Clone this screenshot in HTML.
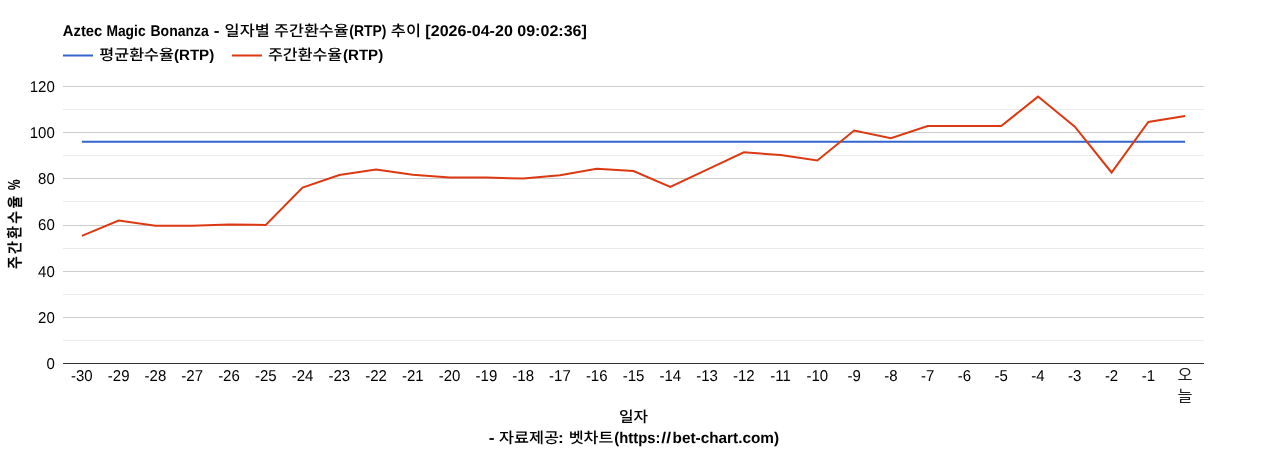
<!DOCTYPE html>
<html lang="ko">
<head>
<meta charset="utf-8">
<title>Aztec Magic Bonanza - 일자별 주간환수율(RTP) 추이</title>
<style>
html,body{margin:0;padding:0;background:#fff;}
body{width:1268px;height:450px;overflow:hidden;}
svg{display:block;}
text{font-family:"Liberation Sans","Noto Sans CJK KR","NanumGothic",sans-serif;font-size:15px;}
.ax{fill:#000;text-rendering:geometricPrecision;}
.axk{fill:#222;}
.gp{text-rendering:geometricPrecision;}
.tt{font-weight:bold;}
</style>
</head>
<body>
<svg width="1268" height="450" viewBox="0 0 1268 450">
<rect x="0" y="0" width="1268" height="450" fill="#ffffff"/>
<text class="tt gp" y="36" fill="#000"><tspan class="l" x="62.84" textLength="39.42" lengthAdjust="spacingAndGlyphs" font-size="15.5">Aztec</tspan> <tspan class="l" x="106.41" textLength="39.18" lengthAdjust="spacingAndGlyphs" font-size="15.5">Magic</tspan> <tspan class="l" x="150.50" textLength="58.27" lengthAdjust="spacingAndGlyphs" font-size="15.5">Bonanza</tspan> <tspan class="l" x="213.78" textLength="5.79" lengthAdjust="spacingAndGlyphs" font-size="15.5">-</tspan> <tspan class="k" x="224.61" textLength="45.08" lengthAdjust="spacingAndGlyphs" font-weight="500">일자별</tspan> <tspan class="k" x="274.09" textLength="74.54" lengthAdjust="spacingAndGlyphs" font-weight="500">주간환수율</tspan><tspan class="l" x="349.33" textLength="37.12" lengthAdjust="spacingAndGlyphs" font-size="15.5">(RTP)</tspan> <tspan class="k" x="390.88" textLength="30.04" lengthAdjust="spacingAndGlyphs" font-weight="500">추이</tspan> <tspan class="l" x="425.39" textLength="161.48" lengthAdjust="spacingAndGlyphs" font-size="15.5">[2026-04-20 09:02:36]</tspan></text>
<g>
<path d="M63,55.5L93,55.5" stroke="#3366cc" stroke-width="2" fill="none"/>
<text class="tt gp" y="59.5" fill="#000"><tspan class="k" x="99.29" textLength="74.64" lengthAdjust="spacingAndGlyphs" font-weight="500">평균환수율</tspan><tspan class="l" x="173.94" textLength="40.31" lengthAdjust="spacingAndGlyphs">(RTP)</tspan></text>
<path d="M232,55.5L262,55.5" stroke="#dc3912" stroke-width="2" fill="none"/>
<text class="tt gp" y="59.5" fill="#000"><tspan class="k" x="267.99" textLength="74.23" lengthAdjust="spacingAndGlyphs" font-weight="500">주간환수율</tspan><tspan class="l" x="343.05" textLength="40.10" lengthAdjust="spacingAndGlyphs">(RTP)</tspan></text>
</g>
<g shape-rendering="crispEdges">
<rect x="63" y="340" width="1141" height="1" fill="#ebebeb"/>
<rect x="63" y="317" width="1141" height="1" fill="#cccccc"/>
<rect x="63" y="294" width="1141" height="1" fill="#ebebeb"/>
<rect x="63" y="271" width="1141" height="1" fill="#cccccc"/>
<rect x="63" y="248" width="1141" height="1" fill="#ebebeb"/>
<rect x="63" y="225" width="1141" height="1" fill="#cccccc"/>
<rect x="63" y="201" width="1141" height="1" fill="#ebebeb"/>
<rect x="63" y="178" width="1141" height="1" fill="#cccccc"/>
<rect x="63" y="155" width="1141" height="1" fill="#ebebeb"/>
<rect x="63" y="132" width="1141" height="1" fill="#cccccc"/>
<rect x="63" y="109" width="1141" height="1" fill="#ebebeb"/>
<rect x="63" y="86" width="1141" height="1" fill="#cccccc"/>
<rect x="63" y="363" width="1141" height="1" fill="#333333"/>
</g>
<path d="M81.89,141.8L1185.11,141.8" stroke="#3366cc" stroke-width="2" fill="none"/>
<path d="M81.89,235.9L118.66,220.5L155.44,225.8L192.21,225.8L228.98,224.6L265.76,224.9L302.53,187.5L339.31,175L376.08,169.5L412.85,174.7L449.63,177.6L486.40,177.6L523.18,178.6L559.95,175.25L596.73,168.75L633.50,171.1L670.27,187.0L707.05,169.6L743.82,152.25L780.60,155.1L817.37,160.5L854.15,130.5L890.92,138.25L927.69,126L964.47,126L1001.24,126L1038.02,96.6L1074.79,126.7L1111.56,172.5L1148.34,122.0L1185.11,115.9" stroke="#dc3912" stroke-width="2" fill="none"/>
<g class="ax" text-anchor="end" transform="scale(1,1.05)">
<text x="54.8" y="351.43">0</text>
<text x="54.8" y="307.46">20</text>
<text x="54.8" y="263.49">40</text>
<text x="54.8" y="219.52">60</text>
<text x="54.8" y="175.56">80</text>
<text x="54.8" y="131.59">100</text>
<text x="54.8" y="87.62">120</text>
</g>
<g class="ax" text-anchor="middle" transform="scale(1,1.05)">
<text x="81.89" y="362.86">-30</text>
<text x="118.66" y="362.86">-29</text>
<text x="155.44" y="362.86">-28</text>
<text x="192.21" y="362.86">-27</text>
<text x="228.98" y="362.86">-26</text>
<text x="265.76" y="362.86">-25</text>
<text x="302.53" y="362.86">-24</text>
<text x="339.31" y="362.86">-23</text>
<text x="376.08" y="362.86">-22</text>
<text x="412.85" y="362.86">-21</text>
<text x="449.63" y="362.86">-20</text>
<text x="486.40" y="362.86">-19</text>
<text x="523.18" y="362.86">-18</text>
<text x="559.95" y="362.86">-17</text>
<text x="596.73" y="362.86">-16</text>
<text x="633.50" y="362.86">-15</text>
<text x="670.27" y="362.86">-14</text>
<text x="707.05" y="362.86">-13</text>
<text x="743.82" y="362.86">-12</text>
<text x="780.60" y="362.86">-11</text>
<text x="817.37" y="362.86">-10</text>
<text x="854.15" y="362.86">-9</text>
<text x="890.92" y="362.86">-8</text>
<text x="927.69" y="362.86">-7</text>
<text x="964.47" y="362.86">-6</text>
<text x="1001.24" y="362.86">-5</text>
<text x="1038.02" y="362.86">-4</text>
<text x="1074.79" y="362.86">-3</text>
<text x="1111.56" y="362.86">-2</text>
<text x="1148.34" y="362.86">-1</text>
</g>
<text class="axk k"><tspan x="1177.47" y="380" textLength="15.05" lengthAdjust="spacingAndGlyphs">오</tspan><tspan x="1177.47" y="401" textLength="15.05" lengthAdjust="spacingAndGlyphs">늘</tspan></text>
<text class="tt gp" y="421.9" fill="#000"><tspan class="k" x="618.94" textLength="29.13" lengthAdjust="spacingAndGlyphs" font-weight="500">일자</tspan></text>
<text class="tt gp" y="442.7" fill="#000"><tspan class="l" x="488.73" textLength="5.79" lengthAdjust="spacingAndGlyphs" font-size="15.5">-</tspan> <tspan class="k" x="498.96" textLength="60.01" lengthAdjust="spacingAndGlyphs" font-weight="500">자료제공</tspan><tspan class="l" x="558.13" textLength="5.79" lengthAdjust="spacingAndGlyphs" font-size="15.5">:</tspan> <tspan class="k" x="568.65" textLength="44.87" lengthAdjust="spacingAndGlyphs" font-weight="500">벳차트</tspan><tspan class="l" x="614.28" textLength="46.11" lengthAdjust="spacingAndGlyphs" font-size="15.5">(https:</tspan><tspan class="l" x="661.27" textLength="4.83" lengthAdjust="spacingAndGlyphs" font-size="15.5">/</tspan><tspan class="l" x="666.17" textLength="4.83" lengthAdjust="spacingAndGlyphs" font-size="15.5">/</tspan><tspan class="l" x="672.61" textLength="106.46" lengthAdjust="spacingAndGlyphs" font-size="15.5">bet-chart.com)</tspan></text>
<text class="tt" fill="#000" transform="translate(20.0,268.4) rotate(-90) scale(0.92,1)"><tspan x="-0.75" font-weight="500" letter-spacing="2.66" stroke="#000" stroke-width="0.3">주간환수율</tspan> <tspan x="85.33" font-size="16.50" textLength="11.37" lengthAdjust="spacingAndGlyphs" stroke="#000" stroke-width="0.15">%</tspan></text>
</svg>
</body>
</html>
